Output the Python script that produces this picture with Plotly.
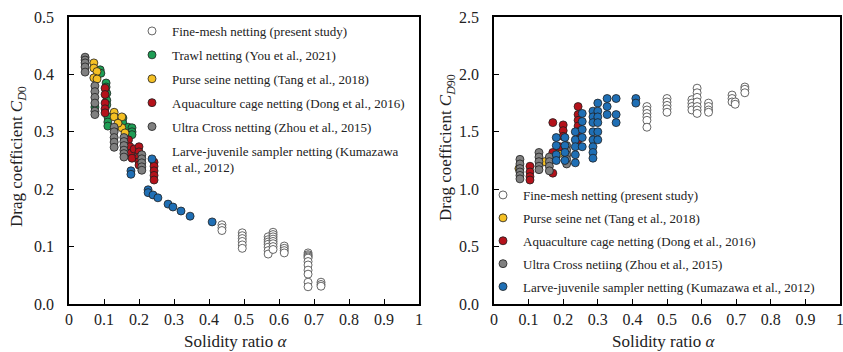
import plotly.graph_objects as go

# ---------------- Left panel data (C_D0) ----------------
fine_L_x = [0.437, 0.437, 0.437,
            0.495, 0.495, 0.495, 0.495, 0.495, 0.495,
            0.569, 0.569, 0.569, 0.569, 0.569, 0.569, 0.569,
            0.583, 0.583, 0.583, 0.583, 0.583, 0.583, 0.583, 0.583,
            0.615, 0.615, 0.615, 0.615,
            0.683, 0.683, 0.683, 0.683, 0.683, 0.683, 0.683, 0.683, 0.683, 0.683, 0.683,
            0.72, 0.72, 0.72]
fine_L_y = [0.138, 0.133, 0.128,
            0.124, 0.119, 0.114, 0.109, 0.103, 0.097,
            0.117, 0.112, 0.108, 0.104, 0.099, 0.093, 0.087,
            0.125, 0.121, 0.117, 0.113, 0.109, 0.105, 0.100, 0.095,
            0.101, 0.097, 0.093, 0.089,
            0.089, 0.086, 0.084, 0.082, 0.080, 0.074, 0.068, 0.059, 0.052, 0.038, 0.030,
            0.038, 0.034, 0.031]

trawl_L_x = [0.089, 0.091, 0.106, 0.106, 0.108, 0.108, 0.108, 0.074, 0.111, 0.111, 0.111,
             0.154, 0.154, 0.169, 0.180, 0.180, 0.180]
trawl_L_y = [0.408, 0.402, 0.385, 0.378, 0.367, 0.355, 0.347, 0.343, 0.326, 0.317, 0.310,
             0.324, 0.315, 0.308, 0.307, 0.300, 0.295]

purse_L_x = [0.071, 0.071, 0.080, 0.071, 0.080, 0.129, 0.129, 0.151, 0.151, 0.160, 0.140]
purse_L_y = [0.420, 0.411, 0.405, 0.394, 0.392, 0.334, 0.326, 0.326, 0.307, 0.298, 0.315]

aqua_L_x = [0.103, 0.103, 0.103, 0.103, 0.103, 0.170, 0.174, 0.177, 0.180, 0.186,
            0.200, 0.200, 0.200, 0.200, 0.200, 0.243, 0.243, 0.243, 0.243, 0.243]
aqua_L_y = [0.376, 0.365, 0.350, 0.340, 0.333, 0.286, 0.274, 0.263, 0.254, 0.270,
            0.274, 0.265, 0.256, 0.248, 0.242, 0.247, 0.240, 0.232, 0.224, 0.216]

ultra_L_x = [0.046, 0.046, 0.046, 0.046, 0.046,
             0.074, 0.074, 0.074, 0.074, 0.074, 0.074,
             0.129, 0.129, 0.129, 0.129, 0.129,
             0.157, 0.157, 0.157, 0.157, 0.157, 0.157,
             0.208, 0.208, 0.208, 0.208, 0.208]
ultra_L_y = [0.430, 0.425, 0.420, 0.413, 0.404,
             0.380, 0.370, 0.360, 0.350, 0.336, 0.330,
             0.308, 0.300, 0.290, 0.282, 0.273,
             0.290, 0.283, 0.276, 0.268, 0.262, 0.256,
             0.260, 0.253, 0.246, 0.239, 0.233]

kuma_L_x = [0.177, 0.177, 0.226, 0.226, 0.240, 0.254, 0.283, 0.297, 0.320, 0.346, 0.409]
kuma_L_y = [0.232, 0.226, 0.199, 0.194, 0.190, 0.185, 0.174, 0.169, 0.162, 0.153, 0.143]

# ---------------- Right panel data (C_D90) ----------------
fine_R_x = [0.442, 0.442, 0.442, 0.442, 0.442, 0.442,
            0.500, 0.500, 0.500, 0.500, 0.500,
            0.572, 0.572, 0.572, 0.572,
            0.587, 0.587, 0.587, 0.587, 0.587, 0.587, 0.587,
            0.620, 0.620, 0.620, 0.620,
            0.688, 0.688, 0.688, 0.697, 0.697,
            0.725, 0.725, 0.725]
fine_R_y = [1.72, 1.69, 1.66, 1.63, 1.60, 1.54,
            1.79, 1.76, 1.73, 1.70, 1.67,
            1.78, 1.75, 1.72, 1.69,
            1.88, 1.84, 1.80, 1.76, 1.72, 1.69, 1.66,
            1.75, 1.72, 1.69, 1.67,
            1.82, 1.79, 1.76, 1.76, 1.74,
            1.89, 1.87, 1.84]

purse_R_x = [0.072, 0.147, 0.185, 0.188]
purse_R_y = [1.18, 1.24, 1.34, 1.31]

aqua_R_x = [0.104, 0.104, 0.104, 0.104, 0.170, 0.170, 0.170, 0.200, 0.200, 0.200, 0.190,
            0.243, 0.243, 0.243, 0.243, 0.243, 0.243]
aqua_R_y = [1.20, 1.15, 1.11, 1.08, 1.58, 1.32, 1.14, 1.56, 1.51, 1.46, 1.37,
            1.72, 1.65, 1.60, 1.55, 1.50, 1.43]

ultra_R_x = [0.075, 0.075, 0.075, 0.075, 0.075, 0.075,
             0.130, 0.130, 0.130, 0.130, 0.130,
             0.160, 0.160, 0.160, 0.160,
             0.210, 0.210, 0.210, 0.210, 0.210]
ultra_R_y = [1.26, 1.22, 1.18, 1.15, 1.12, 1.09,
             1.32, 1.28, 1.24, 1.20, 1.17,
             1.28, 1.24, 1.20, 1.16,
             1.38, 1.34, 1.30, 1.26, 1.22]

kuma_R_x = [0.180, 0.180, 0.180, 0.180,
            0.205, 0.205, 0.205, 0.205,
            0.235, 0.235, 0.235, 0.235, 0.235,
            0.255, 0.255, 0.255, 0.255, 0.255,
            0.286, 0.286, 0.286, 0.286, 0.286, 0.286, 0.286, 0.286,
            0.300, 0.300, 0.300, 0.300, 0.300, 0.300,
            0.327, 0.327, 0.327,
            0.353, 0.353, 0.353,
            0.410, 0.410]
kuma_R_y = [1.45, 1.38, 1.30, 1.25,
            1.45, 1.38, 1.32, 1.25,
            1.50, 1.43, 1.37, 1.30, 1.23,
            1.66, 1.59, 1.52, 1.45, 1.37,
            1.68, 1.63, 1.58, 1.50, 1.43, 1.37, 1.32, 1.27,
            1.75, 1.68, 1.63, 1.58, 1.50, 1.43,
            1.79, 1.72, 1.65,
            1.79, 1.65, 1.58,
            1.79, 1.75]

x_tickvals = [0, 0.1, 0.2, 0.3, 0.4, 0.5, 0.6, 0.7, 0.8, 0.9, 1]
x_ticktext = ["0", "0.1", "0.2", "0.3", "0.4", "0.5", "0.6", "0.7", "0.8", "0.9", "1"]

FONT = "Liberation Serif"
C_FINE = "white"
C_TRAWL = "#1E9E55"
C_PURSE = "#F5C024"
C_AQUA = "#B5121B"
C_ULTRA = "#808080"
C_KUMA = "#1F6FB5"

fig = go.Figure()


def add(x, y, name, color, xa, ya, leg, edge="#202020"):
    fig.add_trace(go.Scatter(
        x=x, y=y, mode="markers", name=name,
        xaxis=xa, yaxis=ya, legend=leg, legendgroup=leg + name,
        marker=dict(size=8, color=color, line=dict(color=edge, width=0.8)),
    ))


add(fine_L_x, fine_L_y, "Fine-mesh netting (present study)", C_FINE, "x", "y", "legend", edge="#404040")
add(trawl_L_x, trawl_L_y, "Trawl netting (You et al., 2021)", C_TRAWL, "x", "y", "legend")
add(purse_L_x, purse_L_y, "Purse seine netting (Tang et al., 2018)", C_PURSE, "x", "y", "legend")
add(aqua_L_x, aqua_L_y, "Aquaculture cage netting (Dong et al., 2016)", C_AQUA, "x", "y", "legend")
add(ultra_L_x, ultra_L_y, "Ultra Cross netting (Zhou et al., 2015)", C_ULTRA, "x", "y", "legend")
add(kuma_L_x, kuma_L_y, "Larve-juvenile sampler netting (Kumazawa<br>et al., 2012)", C_KUMA, "x", "y", "legend")

add(fine_R_x, fine_R_y, "Fine-mesh netting (present study)", C_FINE, "x2", "y2", "legend2", edge="#404040")
add(purse_R_x, purse_R_y, "Purse seine net (Tang et al., 2018)", C_PURSE, "x2", "y2", "legend2")
add(aqua_R_x, aqua_R_y, "Aquaculture cage netting (Dong et al., 2016)", C_AQUA, "x2", "y2", "legend2")
add(ultra_R_x, ultra_R_y, "Ultra Cross netiing (Zhou et al., 2015)", C_ULTRA, "x2", "y2", "legend2")
add(kuma_R_x, kuma_R_y, "Larve-juvenile sampler netting (Kumazawa et al., 2012)", C_KUMA, "x2", "y2", "legend2")

W, H = 843, 352
axis_common = dict(
    showline=True, linecolor="black", linewidth=1.5, mirror=True,
    ticks="inside", ticklen=5, tickwidth=1, tickcolor="black",
    showgrid=False, zeroline=False, automargin=False,
    ticklabeloverflow="allow",
    tickfont=dict(family=FONT, size=16, color="#222"),
)

fig.update_layout(
    width=W, height=H,
    margin=dict(l=0, r=0, t=0, b=0),
    paper_bgcolor="white", plot_bgcolor="white",
    font=dict(family=FONT, color="#222"),
    xaxis=dict(domain=[69 / W, 419 / W], range=[0, 1], tickvals=x_tickvals, ticktext=x_ticktext,
               anchor="y", ticklabelstandoff=0, **axis_common),
    yaxis=dict(domain=[48 / H, 335 / H], range=[0, 0.5], dtick=0.1, tickformat=".1f",
               anchor="x", ticklabelstandoff=10, **axis_common),
    xaxis2=dict(domain=[494 / W, 840 / W], range=[0, 1], tickvals=x_tickvals, ticktext=x_ticktext,
                anchor="y2", ticklabelstandoff=0, **axis_common),
    yaxis2=dict(domain=[48 / H, 335 / H], range=[0, 2.5], dtick=0.5, tickformat=".1f",
                anchor="x2", ticklabelstandoff=10, **axis_common),
    legend=dict(x=132 / W, y=1 - 16 / H, xanchor="left", yanchor="top",
                bgcolor="rgba(0,0,0,0)", font=dict(family=FONT, size=13, color="#222"),
                tracegroupgap=4, itemclick=False),
    legend2=dict(x=483 / W, y=1 - 180 / H, xanchor="left", yanchor="top",
                 bgcolor="rgba(0,0,0,0)", font=dict(family=FONT, size=13, color="#222"),
                 tracegroupgap=3, itemclick=False),
    showlegend=True,
)

title_font = dict(family=FONT, size=17, color="#222")
fig.add_annotation(text="Drag coefficient <i>C</i><sub><i>D</i>0</sub>", x=18 / W, y=1 - 157 / H,
                   xref="paper", yref="paper", xanchor="center", yanchor="middle",
                   textangle=-90, showarrow=False, font=title_font)
fig.add_annotation(text="Drag coefficient <i>C</i><sub><i>D</i>90</sub>", x=447 / W, y=1 - 147 / H,
                   xref="paper", yref="paper", xanchor="center", yanchor="middle",
                   textangle=-90, showarrow=False, font=title_font)
fig.add_annotation(text="Solidity ratio <i>α</i>", x=236 / W, y=1 - 341 / H,
                   xref="paper", yref="paper", xanchor="center", yanchor="middle",
                   showarrow=False, font=title_font)
fig.add_annotation(text="Solidity ratio <i>α</i>", x=664 / W, y=1 - 341 / H,
                   xref="paper", yref="paper", xanchor="center", yanchor="middle",
                   showarrow=False, font=title_font)

fig.write_html("out.html")
